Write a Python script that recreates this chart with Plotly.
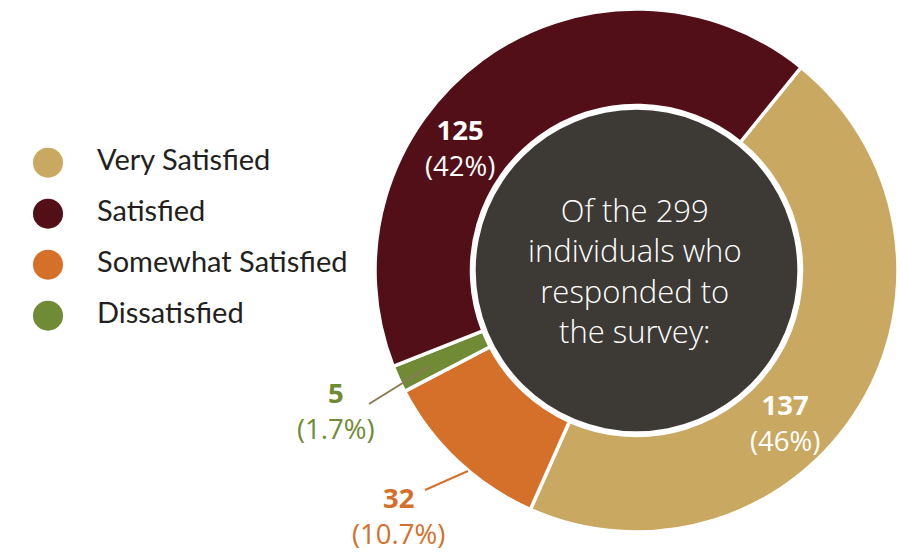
import plotly.graph_objects as go

# ---- data ----
categories = ["Very Satisfied", "Satisfied", "Somewhat Satisfied", "Dissatisfied"]
counts = [137, 125, 32, 5]
pct_labels = ["46%", "42%", "10.7%", "1.7%"]
total_respondents = 299
pie_order = [0, 2, 3, 1]   # clockwise drawing order of the slices

# ---- styles ----
colors = ["#c9a862", "#520f17", "#d4702a", "#718a36"]
label_colors = ["#ffffff", "#ffffff", "#d4702a", "#718a36"]
W, H = 908, 555
CX, CY, R = 636.5, 270.5, 261.5   # donut centre / radius in px
HOLE_R = 165
DARK_R = 160.8

def px(x):
    return x / W

def py(y):
    return 1 - y / H

fig = go.Figure()

# donut
fig.add_trace(go.Pie(
    labels=[categories[i] for i in pie_order],
    values=[counts[i] for i in pie_order],
    sort=False, direction="clockwise", rotation=39, hole=HOLE_R / R,
    marker=dict(colors=[colors[i] for i in pie_order], line=dict(color="white", width=3.5)),
    textinfo="none", hoverinfo="label+value", showlegend=False,
    domain=dict(x=[px(CX - R), px(CX + R)], y=[py(CY + R), py(CY - R)]),
))

# dark centre disc
fig.add_trace(go.Pie(
    labels=["center"], values=[total_respondents], sort=False,
    marker=dict(colors=["#3d3a35"], line=dict(width=0)),
    textinfo="none", hoverinfo="skip", showlegend=False,
    domain=dict(x=[px(CX - DARK_R), px(CX + DARK_R)], y=[py(CY + DARK_R), py(CY - DARK_R)]),
))

# custom legend (circles + labels)
idx = list(range(len(categories)))
fig.add_trace(go.Scatter(
    x=[0] * len(categories), y=idx, mode="markers",
    marker=dict(size=30, color=colors, line=dict(width=0)),
    hoverinfo="skip", showlegend=False,
))
fig.add_trace(go.Scatter(
    x=[49] * len(categories), y=idx, mode="text", text=categories,
    textposition="middle right",
    textfont=dict(family="Lato", size=29, color="#231f20"),
    hoverinfo="skip", showlegend=False,
))

# value labels
label_pos = [(785, 422), (460, 148), (398, 515), (336, 410)]
annotations = []
for i, (v, p) in enumerate(zip(counts, pct_labels)):
    x, y = label_pos[i]
    annotations.append(dict(
        x=px(x), y=py(y), xref="paper", yref="paper", showarrow=False,
        text=f"<b>{v}</b><br>({p})", align="center",
        font=dict(family="Open Sans", size=27.5, color=label_colors[i]),
        xanchor="center", yanchor="middle",
    ))

# centre text
annotations.append(dict(
    x=px(CX - 2), y=py(CY), xref="paper", yref="paper", showarrow=False,
    text=f"Of the {total_respondents}<br>individuals who<br>responded to<br>the survey:",
    align="center",
    font=dict(family="Open Sans", size=31, color="#ffffff", weight=300),
    xanchor="center", yanchor="middle",
))

# leader lines
shapes = [
    dict(type="line", xref="paper", yref="paper",
         x0=px(369), y0=py(404), x1=px(430), y1=py(366),
         line=dict(color="#8a7b58", width=2)),
    dict(type="line", xref="paper", yref="paper",
         x0=px(425), y0=py(490), x1=px(468), y1=py(471),
         line=dict(color="#d4702a", width=2)),
]

fig.update_layout(
    width=W, height=H, margin=dict(l=0, r=0, t=0, b=0),
    paper_bgcolor="white", plot_bgcolor="rgba(0,0,0,0)",
    annotations=annotations, shapes=shapes,
    xaxis=dict(domain=[0, 0.4], range=[-48, 0.4 * W - 48], visible=False, fixedrange=True),
    yaxis=dict(domain=[0, 1], range=[(H - 162.7) / 51, -162.7 / 51], visible=False, fixedrange=True),
    showlegend=False,
)

fig.write_html(
    "out.html",
    config={"displayModeBar": False},
    post_script="document.body.style.margin='0';document.body.style.overflow='hidden';",
)
